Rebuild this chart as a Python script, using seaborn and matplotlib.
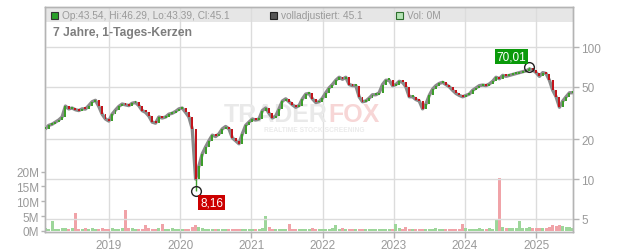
import numpy as np
import pandas as pd
import matplotlib
matplotlib.use("Agg")
import matplotlib.pyplot as plt
import matplotlib.dates as mdates
from matplotlib.patches import Rectangle
import seaborn as sns

# ---------------- data ----------------
close = [24, 25.5, 26, 27, 28, 29.5, 35.7, 34, 34.5, 33.5,
         33, 34, 33.9, 36, 38.5, 39.5, 35.5, 31, 28.5, 27.5,
         31, 33.3, 35.5, 37, 36.5, 36, 37.5, 38, 36, 33,
         32, 30, 27, 26.5, 29.5, 29, 29.5, 31, 31.5, 32.5,
         34, 34.5, 32, 29.5, 24, 10, 12.6, 15.5, 17.5, 19.5,
         21.5, 21, 22, 24, 25, 24, 20.5, 19.5, 18.5, 22,
         25.5, 27, 28.5, 28, 28.5, 33, 34.5, 31.5, 29, 30,
         34, 39, 40.5, 38.5, 36.5, 35, 36, 40.5, 44, 44.5,
         40.5, 38, 38.5, 41, 45, 49, 52, 56, 59, 57,
         59, 52, 51, 51, 42, 38.5, 39, 41, 43.5, 43.5,
         45, 52, 56, 56, 51, 52, 55, 54, 50, 42,
         42, 40, 39, 34, 37, 43, 48, 51, 53, 54,
         52, 50, 47, 44.5, 43, 42, 43, 44, 47, 49,
         51, 51.5, 51, 52.5, 55, 59, 57.5, 61, 60, 61,
         62, 63, 64, 65, 66, 68, 67, 64, 60, 64,
         63, 56, 47, 42, 35, 39, 42, 45, 45.1]

volume_m = [0.9, 0.8, 3.5, 0.7, 0.8, 0.9, 1.0, 0.8, 0.9, 6.0,
            0.8, 0.7, 1.0, 0.8, 0.9, 0.7, 0.8, 0.9, 0.7, 0.8,
            0.9, 0.8, 0.7, 0.9, 7.0, 1.1, 0.9, 0.8, 0.7, 0.8,
            2.0, 0.9, 0.8, 0.7, 0.9, 2.2, 0.8, 0.7, 0.9, 0.6,
            0.7, 0.6, 0.8, 0.7, 1.4, 2.0, 1.5, 1.0, 0.8, 0.7,
            0.6, 0.7, 0.6, 0.8, 0.7, 0.6, 0.7, 0.8, 0.6, 0.7,
            0.6, 0.7, 0.6, 0.7, 0.6, 0.9, 5.0, 1.2, 0.7, 0.6,
            0.7, 0.6, 0.8, 2.4, 0.7, 0.6, 0.7, 0.8, 0.7, 0.6,
            0.9, 0.7, 0.6, 0.7, 0.8, 0.7, 0.9, 2.0, 0.8, 1.0,
            0.7, 0.8, 0.6, 0.7, 0.8, 0.7, 0.6, 0.8, 0.7, 0.6,
            0.7, 0.8, 0.7, 0.6, 0.8, 2.4, 0.9, 0.7, 1.5, 0.8,
            0.7, 0.6, 0.8, 0.7, 0.6, 0.8, 0.7, 0.9, 0.7, 0.6,
            0.7, 0.8, 0.7, 0.6, 0.8, 2.4, 0.9, 0.8, 0.7, 0.8,
            0.9, 0.7, 0.8, 0.9, 0.8, 4.0, 18.0, 1.2, 1.0, 0.9,
            1.1, 0.9, 3.5, 1.0, 0.9, 1.2, 0.9, 1.0, 0.9, 1.1,
            1.0, 1.2, 2.0, 1.8, 2.1, 1.6, 1.4, 1.2, 1.0]

start_date, end_date = "2018-02-09", "2025-07-07"
view_start, view_end = "2018-02-07", "2025-07-08"
price_ticks = [5, 10, 20, 50, 100]
vol_ticks = [0, 5, 10, 15, 20]
vol_labels = ["0M", "5M", "10M", "15M", "20M"]
year_ticks = [2019, 2020, 2021, 2022, 2023, 2024, 2025]
low_idx, low_value, low_label = 45, 8.16, "8,16"
high_idx, high_value, high_label = 145, 70.01, "70,01"
title = "7 Jahre, 1-Tages-Kerzen"
legend_ohlc = "Op:43.54, Hi:46.29, Lo:43.39, Cl:45.1"
legend_adj = "volladjustiert: 45.1"
legend_vol = "Vol: 0M"

# ---------------- styling ----------------
sns.set_theme(style="white")
plt.rcParams['font.family'] = ['Liberation Sans', 'DejaVu Sans']

GREEN = "#3c9e2a"
RED = "#c3141b"
VGREEN = "#9dd69a"
VRED = "#f0a3a8"
TXT = "#9a9a9a"
GRID = "#dcdcdc"
EDGE = "#b4b4b4"

W, H = 632, 253
fig = plt.figure(figsize=(W / 100, H / 100), dpi=100)
ax = fig.add_axes([45 / W, 20 / H, 528 / W, 225 / H])   # volume axis (left)
axp = ax.twinx()                                          # price axis (right)

dates = pd.date_range(start_date, end_date, periods=len(close))
dnum = mdates.date2num(dates)
close_arr = np.array(close, dtype=float)
open_arr = np.concatenate([[close_arr[0]], close_arr[:-1]])
up = close_arr >= open_arr

# volume bars
vol_df = pd.DataFrame({"d": dnum, "v": volume_m, "up": up})
ax.bar(vol_df["d"], vol_df["v"], width=15.5,
       color=np.where(vol_df["up"], VGREEN, VRED), linewidth=0, zorder=2)
ax.set_ylim(-0.34, 75.5)
ax.set_xlim(mdates.date2num(pd.Timestamp(view_start)), mdates.date2num(pd.Timestamp(view_end)))

# background band + grid
ax.add_patch(Rectangle((0, 210 / 225), 1, 15 / 225, transform=ax.transAxes,
                       facecolor="#e6e6e6", edgecolor="none", zorder=0))
for yr in year_ticks:
    ax.axvline(mdates.date2num(pd.Timestamp(f"{yr}-01-01")), color=GRID, lw=1, zorder=0.5)

# watermark
ax.text(328 / W, 1 - 115 / H, "TRADER", transform=fig.transFigure, ha="right", va="center",
        fontsize=18, fontweight="bold", color="#e9e9e9", zorder=1)
ax.text(328 / W, 1 - 115 / H, "FOX", transform=fig.transFigure, ha="left", va="center",
        fontsize=18, fontweight="bold", color="#f7d6d6", zorder=1)
ax.text(314 / W, 1 - 131 / H, "REALTIME STOCK SCREENING", transform=fig.transFigure,
        ha="center", va="center", fontsize=4.8, fontweight="bold", color="#ebebeb", zorder=1)

# price axis
axp.set_yscale("log")
axp.set_ylim(3.97, 201)
for p in price_ticks:
    axp.axhline(p, color=GRID, lw=1, zorder=0.5)

# adjusted close line (grey)
sns.lineplot(x=dnum, y=close_arr, ax=axp, color="#8a8a8a", lw=2.4, zorder=2, legend=False)

# candles
body_lo = np.minimum(open_arr, close_arr)
body_hi = np.maximum(open_arr, close_arr)
body_h = np.maximum(body_hi - body_lo, body_hi * 0.035)
colors = np.where(up, GREEN, RED)
axp.bar(dnum, body_h, bottom=body_lo, width=10, color=colors, linewidth=0, zorder=3)
axp.vlines(dnum[low_idx], low_value, body_lo[low_idx], color=GREEN, lw=1, zorder=3)
axp.vlines(dnum[high_idx], body_hi[high_idx], high_value, color=GREEN, lw=1, zorder=3)

# extreme markers + labels
axp.plot(dnum[low_idx], low_value, "o", ms=7, mfc="none", mec="#222", mew=1, zorder=4)
axp.plot(dnum[high_idx], high_value, "o", ms=7, mfc="none", mec="#222", mew=1, zorder=4)
axp.annotate(low_label, (dnum[low_idx], low_value), xytext=(16, -12), textcoords="offset pixels",
             ha="center", va="center", color="white", fontsize=8.5, zorder=5,
             bbox=dict(boxstyle="square,pad=0.15", fc="#cc0000", ec="none"))
axp.annotate(high_label, (dnum[high_idx], high_value), xytext=(-18, 11), textcoords="offset pixels",
             ha="center", va="center", color="white", fontsize=8.5, zorder=5,
             bbox=dict(boxstyle="square,pad=0.15", fc="#0a9a0a", ec="none"))

# ticks
axp.set_yticks(price_ticks)
axp.set_yticklabels([str(p) for p in price_ticks])
axp.yaxis.set_minor_locator(matplotlib.ticker.NullLocator())
axp.tick_params(axis="y", which="major", right=True, length=4, width=1, color=EDGE,
                pad=2, labelsize=8.5, labelcolor=TXT)
ax.set_yticks(vol_ticks)
ax.set_yticklabels(vol_labels)
ax.tick_params(axis="y", left=True, length=3, width=1, color=EDGE, pad=1,
               labelsize=8.5, labelcolor=TXT)
ax.set_xticks([mdates.date2num(pd.Timestamp(f"{yr}-01-01")) for yr in year_ticks])
ax.set_xticklabels([str(y) for y in year_ticks])
ax.tick_params(axis="x", bottom=True, length=4, width=1, color=EDGE, pad=1,
               labelsize=8.5, labelcolor=TXT)
for a in (ax, axp):
    for s in a.spines.values():
        s.set_color(EDGE)
        s.set_linewidth(1)
    a.grid(False)
    a.set_xlabel("")
    a.set_ylabel("")

# legend band texts and squares
def square(x, fc, ec):
    fig.add_artist(Rectangle((x / W, 1 - 19.5 / H), 7 / W, 7 / H, transform=fig.transFigure,
                             facecolor=fc, edgecolor=ec, lw=0.8))

square(51, "#2aa02a", "#333333")
fig.text(62 / W, 1 - 15.8 / H, legend_ohlc, fontsize=7.3, color=TXT, va="center")
square(270, "#555555", "#222222")
fig.text(281 / W, 1 - 15.8 / H, legend_adj, fontsize=7.3, color=TXT, va="center")
square(396, "#b4e3b4", "#2c6e2c")
fig.text(407 / W, 1 - 15.8 / H, legend_vol, fontsize=7.3, color=TXT, va="center")
fig.text(53 / W, 1 - 33 / H, title, fontsize=8.7, fontweight="bold", color="#7d7d7d", va="center")

fig.savefig("out.png", dpi=100)
